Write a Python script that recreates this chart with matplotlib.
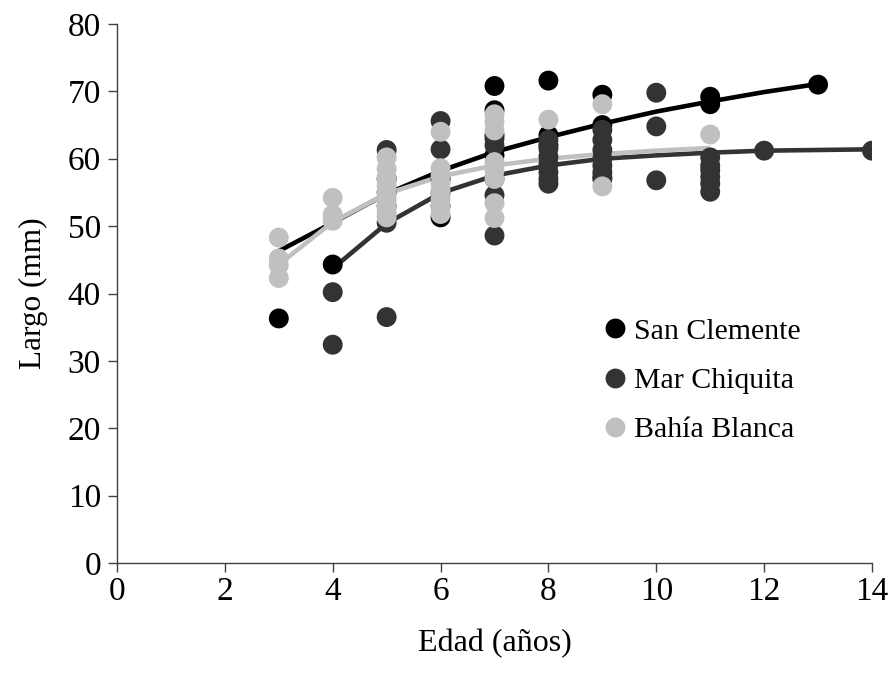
import matplotlib
matplotlib.use("Agg")
import matplotlib.pyplot as plt
from matplotlib.lines import Line2D

plt.rcParams['font.family'] = ['Liberation Serif', 'DejaVu Serif']

# Observed length-at-age (age in years, length in mm)
sc_age = [3, 4, 5, 5, 6, 6, 7, 7, 7, 7, 8, 8, 8, 9, 9, 11, 11, 13]
sc_len = [36.3, 44.3, 55.0, 57.0, 51.3, 57.0, 70.8, 67.2, 63.5, 60.5,
          71.6, 63.5, 62.0, 69.5, 65.0, 69.2, 68.1, 71.0]

mc_age = [4, 4, 5, 5, 5, 5, 6, 6, 6, 6, 7, 7, 7, 7, 7,
          8, 8, 8, 8, 8, 8, 8, 9, 9, 9, 9, 9, 9, 9, 9,
          10, 10, 10, 11, 11, 11, 11, 11, 11, 12, 14]
mc_len = [40.2, 32.4, 61.3, 50.5, 36.5, 53.0, 65.6, 61.4, 55.0, 53.0,
          63.0, 62.0, 57.0, 54.6, 48.6,
          62.8, 61.5, 60.3, 59.2, 58.0, 57.0, 56.3,
          64.3, 62.8, 61.3, 60.0, 59.0, 58.0, 57.3, 57.0,
          69.8, 64.8, 56.8,
          60.2, 59.0, 58.3, 57.3, 56.3, 55.1, 61.2, 61.2]

bb_age = [3, 3, 3, 3, 4, 4, 4,
          5, 5, 5, 5, 5, 5, 5, 5, 5,
          6, 6, 6, 6, 6, 6, 6, 6,
          7, 7, 7, 7, 7, 7, 7, 7,
          8, 9, 9, 11]
bb_len = [48.3, 45.2, 44.2, 42.3, 54.2, 51.7, 50.8,
          60.2, 58.5, 57.0, 56.0, 55.0, 54.0, 53.0, 52.0, 51.3,
          64.0, 58.6, 57.5, 56.3, 55.2, 54.0, 53.0, 51.8,
          66.6, 65.5, 64.2, 59.5, 58.3, 57.0, 53.4, 51.2,
          65.8, 68.1, 55.9, 63.6]

# Fitted growth curves evaluated at integer ages
sc_fit_age = [3, 4, 5, 6, 7, 8, 9, 10, 11, 12, 13]
sc_fit_len = [46.3, 50.5, 54.8, 58.2, 61.0, 63.2, 65.2, 67.0, 68.5, 69.9, 71.1]
mc_fit_age = [4, 5, 6, 7, 8, 9, 10, 11, 12, 13, 14]
mc_fit_len = [43.7, 50.4, 54.9, 57.5, 59.0, 60.0, 60.5, 60.9, 61.2, 61.3, 61.4]
bb_fit_age = [3, 4, 5, 6, 7, 8, 9, 10, 11]
bb_fit_len = [44.3, 50.6, 54.8, 57.4, 59.0, 60.0, 60.7, 61.2, 61.6]

labels = ['San Clemente', 'Mar Chiquita', 'Bahía Blanca']
colors = ['#000000', '#333333', '#c0c0c0']

fig = plt.figure(figsize=(8.94, 6.83), dpi=100)
ax = fig.add_axes([117 / 894, 1 - 563 / 683, (872 - 117) / 894, (563 - 24) / 683])

for fa, fl, c in [(sc_fit_age, sc_fit_len, colors[0]),
                  (mc_fit_age, mc_fit_len, colors[1]),
                  (bb_fit_age, bb_fit_len, colors[2])]:
    ax.plot(fa, fl, color=c, lw=3.3, zorder=2, solid_capstyle='butt')

for a, l, c in [(sc_age, sc_len, colors[0]),
                (mc_age, mc_len, colors[1]),
                (bb_age, bb_len, colors[2])]:
    ax.scatter(a, l, s=205, color=c, edgecolors='none', zorder=3)

ax.set_xlim(0, 14)
ax.set_ylim(0, 80)
ax.set_xticks(range(0, 15, 2))
ax.set_yticks(range(0, 81, 10))
for side in ['top', 'right']:
    ax.spines[side].set_visible(False)
for side in ['left', 'bottom']:
    ax.spines[side].set_color('#404040')
    ax.spines[side].set_linewidth(1.0)
ax.tick_params(direction='out', length=6.5, width=1.0, color='#404040',
               labelsize=24)
ax.tick_params(axis='x', pad=3)
ax.tick_params(axis='y', pad=5)

ax.set_xlabel('Edad (años)', fontsize=23, labelpad=16)
ax.set_ylabel('Largo (mm)', fontsize=22.5, labelpad=14)

handles = [Line2D([], [], marker='o', ls='none', markersize=14.3,
                  markerfacecolor=c, markeredgecolor='none') for c in colors]
ax.legend(handles, labels, loc='upper left', bbox_to_anchor=(0.62, 0.477),
          frameon=False, fontsize=21.5, handletextpad=0.05, labelspacing=0.75,
          borderaxespad=0, handlelength=1.2)

fig.savefig('out.png', dpi=100)
